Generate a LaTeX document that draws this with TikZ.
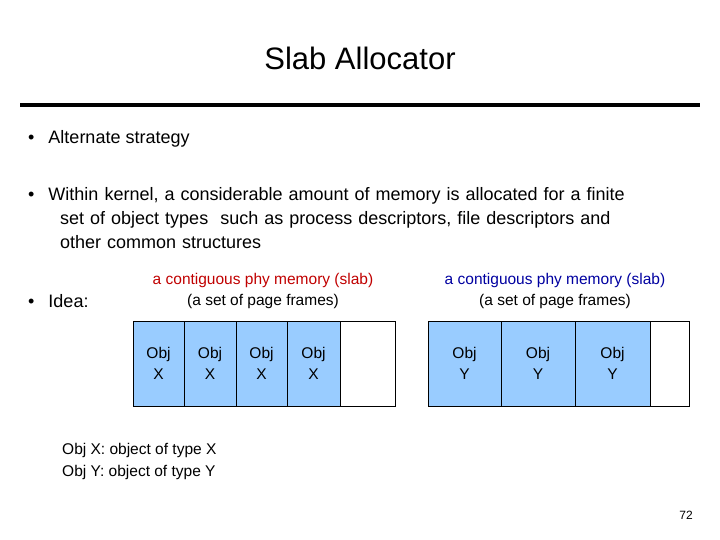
\documentclass[tikz,border=0pt]{standalone}
\usepackage{fontspec}
\setmainfont{Liberation Sans}
\definecolor{boxblue}{RGB}{153,204,255}
\definecolor{lblred}{RGB}{192,0,0}
\definecolor{lblblue}{RGB}{0,0,160}
\begin{document}
\begin{tikzpicture}[x=1pt,y=-1pt,
  body/.style={anchor=west,inner sep=0pt,font=\fontsize{18}{24}\selectfont},
  lbl/.style={inner sep=0pt,align=center,font=\fontsize{15.5}{21}\selectfont},
  cell/.style={draw=black,fill=boxblue,minimum height=85pt,inner sep=0pt,align=center,font=\fontsize{15.5}{21}\selectfont},
  empty/.style={draw=black,fill=white,minimum height=85pt,inner sep=0pt}]
\useasboundingbox (0,0) rectangle (720,540);
\node[inner sep=0pt,font=\fontsize{31}{36}\selectfont] (title) at (360,58) {Slab Allocator};
\draw[line width=4pt] (20,105) coordinate (r1) -- (700,105) coordinate (r2);
\node[body] (b1) at (28,139) {•\hspace{14pt}Alternate strategy};
\node[body,anchor=north west,align=left,text width=680pt,font=\fontsize{18}{24}\selectfont] (b2) at (28,187) {•\hspace{14pt}Within kernel, a considerable amount of memory is allocated for a finite\\\hspace{32pt}set of object types\ \ such as process descriptors, file descriptors and\\\hspace{32pt}other common structures};
\node[body] (b3) at (28,301) {•\hspace{14pt}Idea:};
\node[lbl,text=lblred] (l1) at (263,280) {a contiguous phy memory (slab)};
\node[lbl] (l1b) at (263,301) {(a set of page frames)};
\node[lbl,text=lblblue] (l2) at (555,280) {a contiguous phy memory (slab)};
\node[lbl] (l2b) at (555,301) {(a set of page frames)};
\node[cell,minimum width=51pt] (x1) at (158.5,363.5) {Obj\\X};
\node[cell,minimum width=52pt] (x2) at (210,363.5) {Obj\\X};
\node[cell,minimum width=51pt] (x3) at (261.5,363.5) {Obj\\X};
\node[cell,minimum width=53pt] (x4) at (313.5,363.5) {Obj\\X};
\node[empty,minimum width=55pt] (x5) at (367.5,363.5) {};
\node[cell,minimum width=73pt] (y1) at (464.5,363.5) {Obj\\Y};
\node[cell,minimum width=74pt] (y2) at (538,363.5) {Obj\\Y};
\node[cell,minimum width=75pt] (y3) at (612.5,363.5) {Obj\\Y};
\node[empty,minimum width=39pt] (y4) at (669.5,363.5) {};
\node[lbl,anchor=west,align=left] (n1) at (62,450) {Obj X: object of type X};
\node[lbl,anchor=west,align=left] (n2) at (62,472) {Obj Y: object of type Y};
\node[inner sep=0pt,font=\fontsize{12}{14}\selectfont] (pg) at (686,515) {72};
\end{tikzpicture}
\end{document}
